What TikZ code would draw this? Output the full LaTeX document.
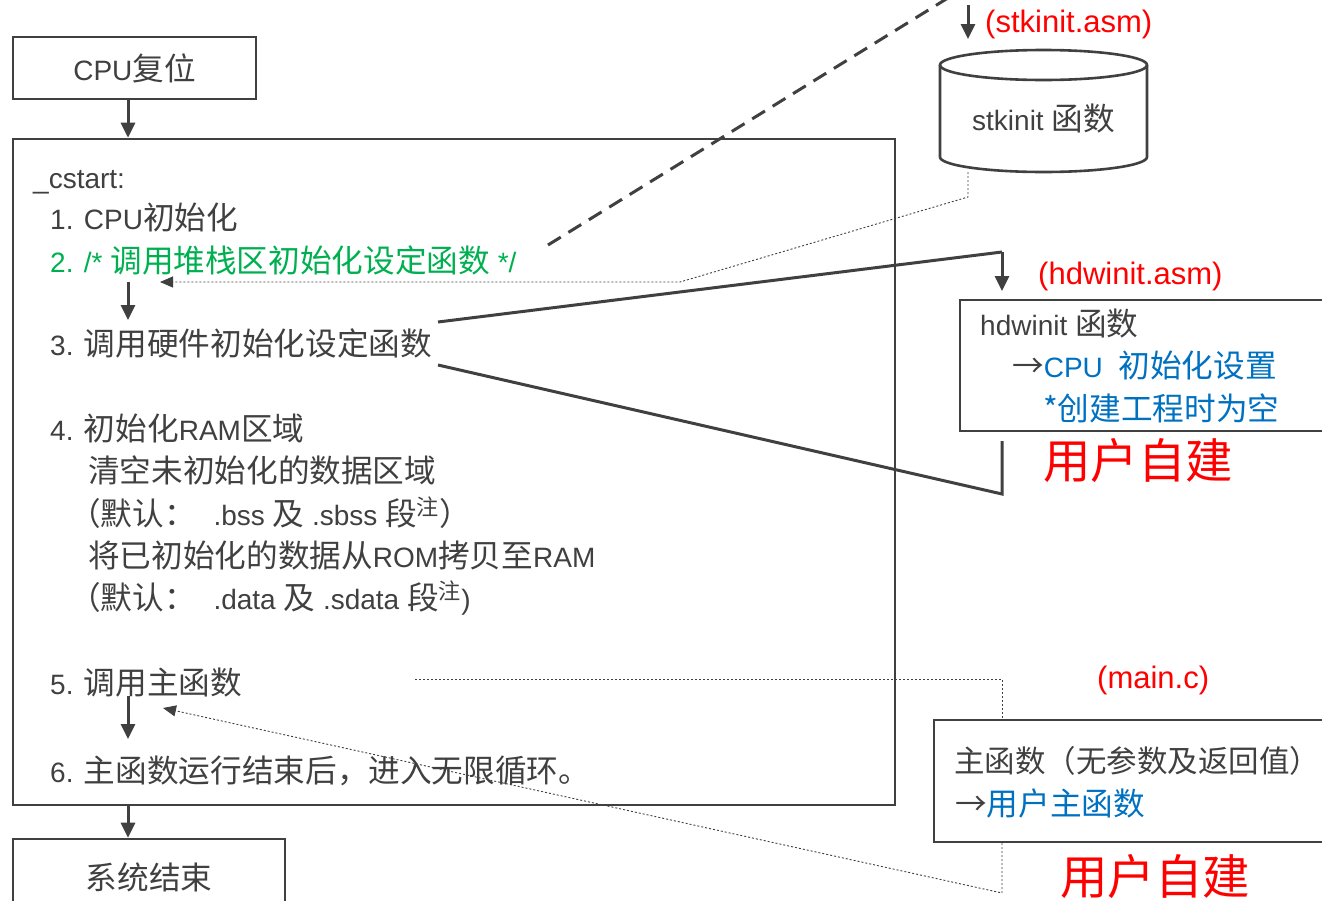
\documentclass[tikz,border=0pt]{standalone}
\usepackage{fontspec}
\setmainfont{Liberation Sans}
\newfontfamily\cjk{Noto Sans CJK SC}[Scale=1.13]
\usetikzlibrary{arrows.meta}
\definecolor{dk}{HTML}{404040}
\definecolor{grn}{HTML}{00B050}
\definecolor{blu}{HTML}{0070C0}
\definecolor{rd}{HTML}{FF0000}
\newcommand\zh[1]{{\cjk #1}}
\begin{document}
\begin{tikzpicture}[x=1pt,y=-1pt,
  box/.style={draw=dk, line width=2.6pt, inner sep=0pt, text=dk, font=\fontsize{28}{34}\selectfont},
  txt/.style={anchor=base west, inner sep=0pt, text=dk, font=\fontsize{28}{34}\selectfont},
  redlbl/.style={anchor=base west, inner sep=0pt, text=rd, font=\fontsize{31}{36}\selectfont},
  bigred/.style={anchor=base west, inner sep=0pt, text=rd, font=\fontsize{42}{50}\selectfont},
  arr/.style={draw=dk, line width=3pt, -{Triangle[length=15pt,width=14pt]}},
  thickline/.style={draw=dk, line width=3pt},
  dashline/.style={draw=dk, line width=3pt, dash pattern=on 15pt off 9pt},
  dotl/.style={draw=dk, line width=0.9pt, dash pattern=on 2pt off 2pt},
  darr/.style={dotl, -{Triangle[length=13pt,width=11pt]}}
]
\useasboundingbox (0,0) rectangle (1322,900);
\coordinate (ax) at (128,0);

% left column boxes
\node[box, minimum width=243pt, minimum height=62pt] (cpu) at (134.5,68) {CPU\zh{复位}};
\node[box, minimum width=882pt, minimum height=666pt] (big) at (454,472) {};
\node[box, minimum width=272pt, minimum height=74pt, text depth=0pt] (sysend) at (149,876) {\zh{系统结束}};

\draw[arr] (cpu.south -| ax) -- (big.north -| ax);
\draw[arr] (big.south -| ax) -- (sysend.north -| ax);

% text in the big box
\node[txt] (l0) at (33,188) {\_cstart:};
\node[txt] (l1) at (50,229) {1. CPU\zh{初始化}};
\node[txt,text=grn] (l2) at (50,272) {2. /* \zh{调用堆栈区初始化设定函数} */};
\node[txt] (l3) at (50,355) {3. \zh{调用硬件初始化设定函数}};
\node[txt] (l4) at (50,440) {4. \zh{初始化}RAM\zh{区域}};
\node[txt] (l4a) at (88,482) {\zh{清空未初始化的数据区域}};
\node[txt] (l4b) at (69,525) {\zh{（默认：}\hspace{10pt} .bss \zh{及} .sbss \zh{段}\textsuperscript{\zh{注}}\zh{）}};
\node[txt] (l4c) at (88,567) {\zh{将已初始化的数据从}ROM\zh{拷贝至}RAM};
\node[txt] (l4d) at (69,609) {\zh{（默认：}\hspace{10pt} .data \zh{及} .sdata \zh{段}\textsuperscript{\zh{注}})};
\node[txt] (l5) at (50,694) {5. \zh{调用主函数}};
\node[txt] (l6) at (50,782) {6. \zh{主函数运行结束后，进入无限循环。}};

\coordinate (a23s) at (128,282);
\coordinate (a23e) at (128,320);
\coordinate (a56s) at (128,696);
\coordinate (a56e) at (128,739);
\draw[arr] (a23s) -- (a23e);
\draw[arr] (a56s) -- (a56e);

% stkinit cylinder
\coordinate (cylc) at (1043.5,65);
\draw[draw=dk, line width=2.6pt, fill=white]
  (940,65) -- (940,157) arc[start angle=180, end angle=360, x radius=103.5pt, y radius=15pt] -- (1147,65);
\draw[draw=dk, line width=2.6pt] (cylc) ellipse[x radius=103.5pt, y radius=15pt];
\node[anchor=base, inner sep=0pt, text=dk, font=\fontsize{28}{34}\selectfont] (stk) at (1043.5,130) {stkinit \zh{函数}};
\node[redlbl] (stklbl) at (985,32) {(stkinit.asm)};
\coordinate (stkin0) at (968,5);
\coordinate (stkin1) at (968,39);
\draw[arr] (stkin0) -- (stkin1);

% dashed call line
\coordinate (dsh0) at (548,245);
\coordinate (dsh1) at (956,-7);
\draw[dashline] (dsh0) -- (dsh1);

% dotted return from stkinit
\coordinate (cylb) at (968,172);
\coordinate (ret1) at (968,197);
\coordinate (ret2) at (680,282);
\coordinate (ret3) at (160,282);
\draw[darr] (cylb) -- (ret1) -- (ret2) -- (ret3);

% hdwinit
\node[box, minimum width=380pt, minimum height=131pt] (hdw) at (1150,365.5) {};
\node[redlbl] (hdwlbl) at (1038,284) {(hdwinit.asm)};
\node[txt] (h1) at (980,335) {hdwinit \zh{函数}};
\node[txt] (h2) at (1012,377) {\zh{→}\textcolor{blu}{CPU\ \ \zh{初始化设置}}};
\node[txt,text=blu] (h3) at (1043,420) {\zh{*创建工程时为空}};
\node[bigred] (u1) at (1043,478) {\zh{用户自建}};

\coordinate (c3a) at (438,322);
\coordinate (c3b) at (1002,252);
\coordinate (c3c) at (1002,291);
\draw[thickline] (c3a) -- (c3b);
\draw[arr] (c3b) -- (c3c);
\coordinate (r3a) at (1002,441);
\coordinate (r3b) at (1002,494);
\coordinate (r3c) at (438,365);
\draw[thickline] (r3a) -- (r3b) -- (r3c);

% main
\node[redlbl] (mainlbl) at (1097,688) {(main.c)};
\node[box, minimum width=406pt, minimum height=122pt] (mainb) at (1137,781) {};
\node[txt, font=\fontsize{27}{34}\selectfont] (m1) at (954,772) {\zh{主函数（无参数及返回值）}};
\node[txt] (m2) at (955,815) {\zh{→}\textcolor{blu}{\zh{用户主函数}}};
\node[bigred] (u2) at (1060,894) {\zh{用户自建}};

\coordinate (d5a) at (415,679);
\coordinate (d5b) at (1002,679);
\coordinate (d5c) at (1002,719);
\draw[dotl] (d5a) -- (d5b) -- (d5c);
\coordinate (d6a) at (1002,843);
\coordinate (d6b) at (1002,893);
\coordinate (d6c) at (163,708);
\draw[darr] (d6a) -- (d6b) -- (d6c);
\end{tikzpicture}
\end{document}
